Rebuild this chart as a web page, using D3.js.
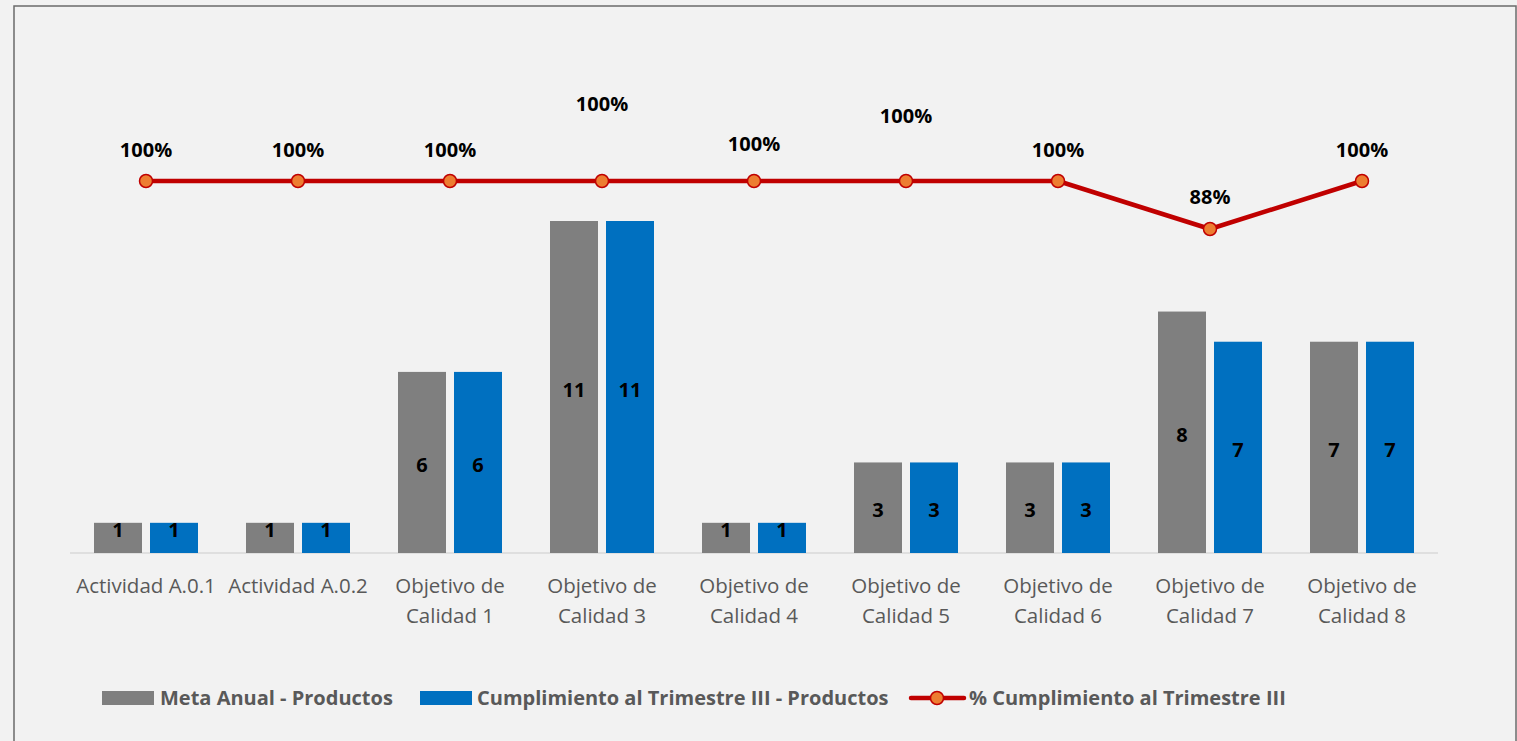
<!DOCTYPE html>
<html>
<head>
<meta charset="utf-8">
<script src="https://cdn.jsdelivr.net/npm/d3@7"></script>
<style>
  body { margin: 0; background: #f2f2f2; }
  svg { display: block; }
  text { font-family: "Open Sans", sans-serif; }
</style>
</head>
<body>
<script>
// categories and series
var categories = [
  ["Actividad A.0.1"], ["Actividad A.0.2"],
  ["Objetivo de", "Calidad 1"], ["Objetivo de", "Calidad 3"],
  ["Objetivo de", "Calidad 4"], ["Objetivo de", "Calidad 5"],
  ["Objetivo de", "Calidad 6"], ["Objetivo de", "Calidad 7"],
  ["Objetivo de", "Calidad 8"]
];
var metaAnual = [1, 1, 6, 11, 1, 3, 3, 8, 7];
var cumplimiento = [1, 1, 6, 11, 1, 3, 3, 7, 7];
var porcentaje = [1, 1, 1, 1, 1, 1, 1, 0.88, 1];
var seriesNames = ["Meta Anual - Productos", "Cumplimiento al Trimestre III - Productos", "% Cumplimiento al Trimestre III"];

var width = 1517, height = 741;
var grayColor = "#7f7f7f", blueColor = "#0070c0", lineColor = "#c00000", markerColor = "#ed7d31";
var textGray = "#595959";

var svg = d3.select("body").append("svg")
  .attr("width", width)
  .attr("height", height);

// outer chart frame
svg.append("rect")
  .attr("x", 14).attr("y", 6)
  .attr("width", 1502).attr("height", 760)
  .attr("fill", "#f2f2f2")
  .attr("stroke", "#6b6b6b")
  .attr("stroke-width", 1.5);

var x = d3.scaleBand()
  .domain(d3.range(categories.length))
  .range([70, 1438]);

var xInner = d3.scaleBand()
  .domain([0, 1])
  .range([24, x.bandwidth() - 24])
  .paddingInner(8 / 56);

var y = d3.scaleLinear().domain([0, 11]).range([553, 221]);
var yPct = d3.scaleLinear().domain([0.8, 1]).range([261, 181]);

// baseline
svg.append("line")
  .attr("x1", 70).attr("x2", 1438)
  .attr("y1", y(0)).attr("y2", y(0))
  .attr("stroke", "#d9d9d9").attr("stroke-width", 1.5);

// category labels
var xAxis = svg.append("g");
categories.forEach(function(lines, i) {
  var t = xAxis.append("text")
    .attr("x", x(i) + x.bandwidth() / 2)
    .attr("y", 593)
    .attr("text-anchor", "middle")
    .attr("fill", textGray)
    .style("font-size", "20.5px");
  lines.forEach(function(l, j) {
    t.append("tspan")
      .attr("x", x(i) + x.bandwidth() / 2)
      .attr("dy", j === 0 ? 0 : 30)
      .text(l);
  });
});

// bars
var series = [metaAnual, cumplimiento];
var colors = [grayColor, blueColor];
series.forEach(function(vals, s) {
  var g = svg.append("g");
  g.selectAll("rect").data(vals).enter().append("rect")
    .attr("x", function(d, i) { return x(i) + xInner(s); })
    .attr("y", function(d) { return y(d); })
    .attr("width", xInner.bandwidth())
    .attr("height", function(d) { return y(0) - y(d); })
    .attr("fill", colors[s]);
  g.selectAll("text").data(vals).enter().append("text")
    .attr("x", function(d, i) { return x(i) + xInner(s) + xInner.bandwidth() / 2; })
    .attr("y", function(d) {
      var mid = (y(d) + y(0)) / 2;
      return y(0) - y(d) < 40 ? y(d) + 14.5 : mid + 9.5;
    })
    .attr("text-anchor", "middle")
    .attr("fill", "#000")
    .style("font-size", "20px")
    .style("font-weight", "bold")
    .text(function(d) { return d; });
});

// percent line
var line = d3.line()
  .x(function(d, i) { return x(i) + x.bandwidth() / 2; })
  .y(function(d) { return yPct(d); });

svg.append("path")
  .datum(porcentaje)
  .attr("d", line)
  .attr("fill", "none")
  .attr("stroke", lineColor)
  .attr("stroke-width", 4.5)
  .attr("stroke-linejoin", "round");

svg.selectAll(".marker").data(porcentaje).enter().append("circle")
  .attr("class", "marker")
  .attr("cx", function(d, i) { return x(i) + x.bandwidth() / 2; })
  .attr("cy", function(d) { return yPct(d); })
  .attr("r", 6.5)
  .attr("fill", markerColor)
  .attr("stroke", lineColor)
  .attr("stroke-width", 1.5);

// labels were dragged in the original, so some sit higher
var labelLift = [24, 24, 24, 70, 30, 58, 24, 25, 24];
svg.selectAll(".pctLabel").data(porcentaje).enter().append("text")
  .attr("class", "pctLabel")
  .attr("x", function(d, i) { return x(i) + x.bandwidth() / 2; })
  .attr("y", function(d, i) { return yPct(d) - labelLift[i]; })
  .attr("text-anchor", "middle")
  .attr("fill", "#000")
  .style("font-size", "20px")
  .style("font-weight", "bold")
  .text(function(d) { return d3.format(".0%")(d); });

// legend
var legend = svg.append("g").style("font-size", "20px").style("font-weight", "bold");
legend.append("rect").attr("x", 102).attr("y", 691).attr("width", 52).attr("height", 14).attr("fill", grayColor);
legend.append("text").attr("x", 160).attr("y", 705).attr("fill", textGray).text(seriesNames[0]);
legend.append("rect").attr("x", 420).attr("y", 691).attr("width", 52).attr("height", 14).attr("fill", blueColor);
legend.append("text").attr("x", 477).attr("y", 705).attr("fill", textGray).text(seriesNames[1]);
legend.append("line").attr("x1", 911).attr("x2", 964).attr("y1", 698).attr("y2", 698)
  .attr("stroke", lineColor).attr("stroke-width", 4.5).attr("stroke-linecap", "round");
legend.append("circle").attr("cx", 937).attr("cy", 698).attr("r", 6.5)
  .attr("fill", markerColor).attr("stroke", lineColor).attr("stroke-width", 1.5);
legend.append("text").attr("x", 969).attr("y", 705).attr("fill", textGray).text(seriesNames[2]);
</script>
</body>
</html>
